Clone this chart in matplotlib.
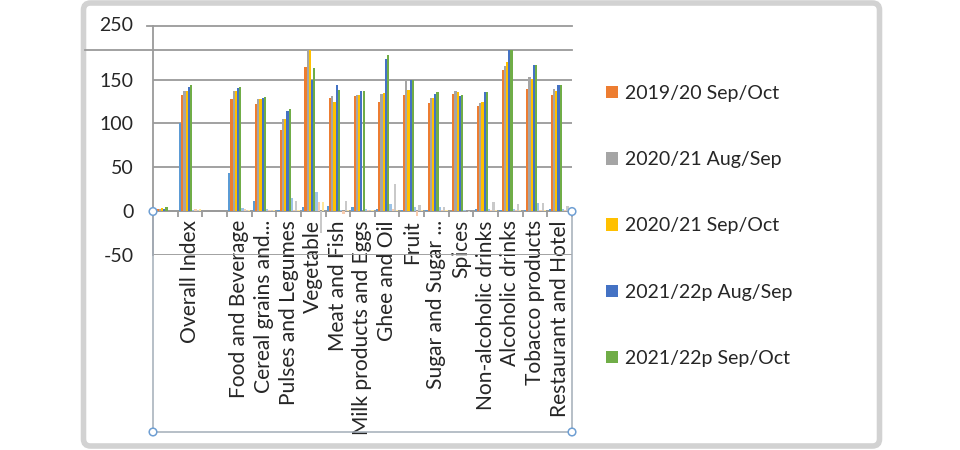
import matplotlib
matplotlib.use("Agg")
import matplotlib.pyplot as plt
import numpy as np
from matplotlib.patches import FancyBboxPatch, Circle

plt.rcParams['font.family'] = ['Lato', 'DejaVu Sans']

# ---------------- data ----------------
categories = ["", "Overall Index", "", "Food and Beverage", "Cereal grains and...",
              "Pulses and Legumes", "Vegetable", "Meat and Fish", "Milk products and Eggs",
              "Ghee and Oil", "Fruit", "Sugar and Sugar ...", "Spices",
              "Non-alcoholic drinks", "Alcoholic drinks", "Tobacco products",
              "Restaurant and Hotel"]

weight = [0, 100, 0, 44, 11.5, 1, 5, 6, 4.5, 3, 1.5, 1.5, 0.5, 2, 1, 1.5, 3]
idx_1920_sepoct = [2, 132, 0, 128, 122.5, 93, 164, 129, 131, 124.5, 132.5, 123, 134, 119.5, 161, 139, 132]
idx_2021_augsep = [2.5, 137, 0, 137, 128, 105, 190, 131, 132, 134, 149, 129, 137, 123, 166, 153, 139]
idx_2021_sepoct = [3.5, 137, 0, 137, 128, 105, 200, 124.5, 132, 135, 138.5, 129, 136, 124.5, 170, 151, 137.5]
idx_2122p_augsep = [3, 141.5, 0, 140.5, 129.5, 114, 149, 143.5, 137.5, 173.5, 149, 134, 131, 135.5, 195, 167, 143.5]
idx_2122p_sepoct = [5, 143.5, 0, 141.5, 130.5, 116.5, 163, 138.5, 137.5, 178, 149, 135.5, 132, 135.5, 200, 167, 143.5]
chg_a = [0, 1, 0, 4, 2, 15, 22, 1, 2, 8, 5, 5, 1, 2, 3, 9, 3]
chg_b = [0, 2, 0, 2, 1.5, 1, 10, -3.5, 1, 2, -5, 1, 0.5, 1, 1, 1, 1]
chg_c = [0, 1, 0, 1.5, 1, 11, -25, 11, 1, 31, 7, 5, -1.5, 10, 8.5, 9.5, 5.5]
chg_d = [0, 2, 0, 1, 1, 1, 10, 1, 1, 1, 1, 1, 0.5, 1, 1, 1, 1]

legend_labels = ["2019/20 Sep/Oct", "2020/21 Aug/Sep", "2020/21 Sep/Oct",
                 "2021/22p Aug/Sep", "2021/22p Sep/Oct"]
ytick_values = [-50, 0, 50, 100, 150]

series = [weight, idx_1920_sepoct, idx_2021_augsep, idx_2021_sepoct,
          idx_2122p_augsep, idx_2122p_sepoct, chg_a, chg_b, chg_c, chg_d]
colors = ['#5B9BD5', '#ED7D31', '#A5A5A5', '#FFC000', '#4472C4', '#70AD47',
          '#9DC3E6', '#F8CBAD', '#C9C9C9', '#FFE699']

# ---------------- layout ----------------
W, H = 960, 450
FS = 14
FSX = 15.1
TXT = '#262626'
GRID = '#9A9A9A'

fig = plt.figure(figsize=(W / 100, H / 100), dpi=100)
fig.patch.set_facecolor('white')


def rect(l, t, r, b):
    return [l / W, 1 - b / H, (r - l) / W, (b - t) / H]


ax = fig.add_axes(rect(153, 50, 572, 255))
ax.set_facecolor('none')
x = np.arange(len(categories))
n = len(series)
w = 0.09
bars = []
for i, (vals, c) in enumerate(zip(series, colors)):
    b = ax.bar(x + (i - (n - 1) / 2) * w, vals, width=w, color=c, linewidth=0, zorder=3)
    bars.append(b)

ax.set_xlim(-0.5, len(categories) - 0.5)
ax.set_ylim(-50, 183.7)
ax.set_yticks(ytick_values)
ax.set_yticklabels([str(v) for v in ytick_values])
ax.grid(axis='y', color=GRID, lw=1.3, zorder=0)
ax.set_axisbelow(True)
ax.spines['bottom'].set_position(('data', 0))
ax.spines['right'].set_visible(False)
for s in ['left', 'top', 'bottom']:
    ax.spines[s].set_color(GRID)
    ax.spines[s].set_linewidth(1.3)

ax.set_xticks(x)
ax.set_xticklabels(categories, rotation=90, fontsize=FSX, color=TXT)
ax.set_xticks(np.arange(-0.5, len(categories), 1.0), minor=True)
ax.tick_params(axis='x', which='major', length=0, pad=6.5)
ax.tick_params(axis='x', which='minor', length=4, color=GRID, width=1.3, direction='out')
ax.tick_params(axis='y', length=0, pad=14, labelsize=FS, labelcolor=TXT)

# ---------------- decoration overlay ----------------
deco = fig.add_axes([0, 0, 1, 1], zorder=5)
deco.set_xlim(0, W)
deco.set_ylim(H, 0)
deco.axis('off')
deco.patch.set_alpha(0)

frame = FancyBboxPatch((83.5, 3), 796, 443, boxstyle='round,pad=0,rounding_size=7',
                       fill=False, ec='#D2D2D2', lw=4.0, clip_on=False)
deco.add_patch(frame)

deco.plot([85, 153], [50, 50], color=GRID, lw=1.3, clip_on=False)
deco.plot([147, 572], [25.7, 25.7], color=GRID, lw=1.3, clip_on=False)
deco.plot([153, 153], [25.7, 50], color=GRID, lw=1.3, clip_on=False)
deco.text(133, 25.7, '250', ha='right', va='center', fontsize=FS, color=TXT)

SEL = '#A3ADB8'
deco.plot([153, 153], [211.5, 432], color=SEL, lw=1.1, clip_on=False)
deco.plot([572, 572], [211.5, 432], color=SEL, lw=1.1, clip_on=False)
deco.plot([153, 572], [432, 432], color=SEL, lw=1.1, clip_on=False)
for cx, cy in [(153, 211.5), (572, 211.5), (153, 432), (572, 432)]:
    deco.add_patch(Circle((cx, cy), 3.8, fc='white', ec='#6F9FD3', lw=1.1, clip_on=False, zorder=6))

# ---------------- legend ----------------
fig.legend(handles=bars[1:6], labels=legend_labels, loc='upper left',
           bbox_to_anchor=(606 / W, 1 - 85 / H), frameon=False, fontsize=FS,
           handlelength=0.6, handleheight=0.6, handletextpad=0.4,
           labelspacing=2.53, borderpad=0, borderaxespad=0, labelcolor=TXT)

fig.savefig('out.png', dpi=100, facecolor='white')
